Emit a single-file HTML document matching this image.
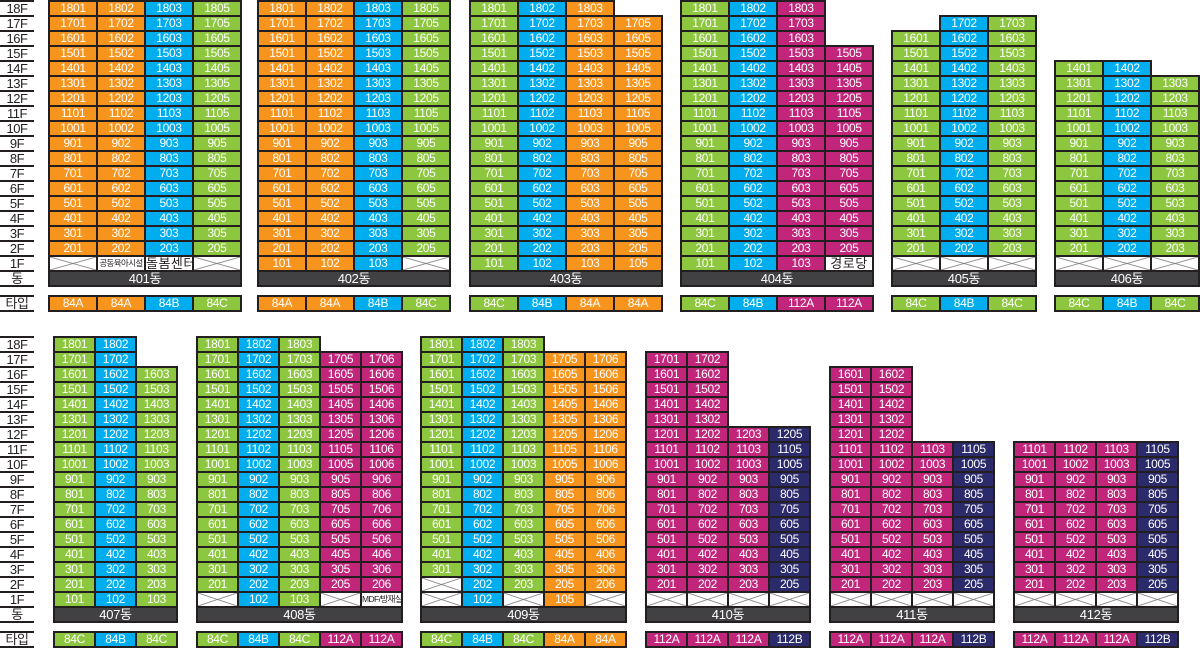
<!DOCTYPE html>
<html><head><meta charset="utf-8"><style>
body{margin:0;width:1200px;height:662px;background:#fff;position:relative;overflow:hidden;font-family:"Liberation Sans","Noto Sans CJK KR",sans-serif}
.B{position:absolute;display:grid;background:#231f20;padding:2px;gap:2px;grid-auto-rows:13px}
.c3{grid-template-columns:repeat(3,1fr)}.c4{grid-template-columns:repeat(4,1fr)}.c5{grid-template-columns:repeat(5,1fr)}
p{margin:0;font-size:12px;line-height:13px;text-align:center;color:#fff;letter-spacing:-.3px;white-space:nowrap;overflow:hidden}
.o{background:#f7941d}.b{background:#00aeef}.g{background:#8dc63f}.m{background:#c1267b}.n{background:#2b2a6b}
.e{background:#fff;margin:-2px -2px 0 0}
.el{background:#fff;margin:-2px 0 0 -2px}
.x{background:linear-gradient(to top right,transparent calc(50% - .8px),#7a7a7a 50%,transparent calc(50% + .8px)),linear-gradient(to bottom right,transparent calc(50% - .8px),#7a7a7a 50%,transparent calc(50% + .8px)),#fff}
.d{grid-column:1/-1;background:#414042;font-size:13px}
.w{background:#fff;color:#231f20}
.s{font-size:8.5px;letter-spacing:-.6px}
.t{font-size:13px;letter-spacing:.5px}
.LC{position:absolute;left:0;width:34px;border-top:2px solid #231f20}
.LC div{height:13px;border-bottom:2px solid #231f20;font-size:13px;line-height:14px;text-align:center;color:#231f20;letter-spacing:-.5px}
</style></head><body>

<div class="LC" style="top:0"><div>18F</div><div>17F</div><div>16F</div><div>15F</div><div>14F</div><div>13F</div><div>12F</div><div>11F</div><div>10F</div><div>9F</div><div>8F</div><div>7F</div><div>6F</div><div>5F</div><div>4F</div><div>3F</div><div>2F</div><div>1F</div><div>동</div></div>
<div class="LC" style="top:295px"><div>타입</div></div>
<div class="LC" style="top:336px"><div>18F</div><div>17F</div><div>16F</div><div>15F</div><div>14F</div><div>13F</div><div>12F</div><div>11F</div><div>10F</div><div>9F</div><div>8F</div><div>7F</div><div>6F</div><div>5F</div><div>4F</div><div>3F</div><div>2F</div><div>1F</div><div>동</div></div>
<div class="LC" style="top:631px"><div>타입</div></div>

<!-- 401 -->
<div class="B c4" style="left:48px;top:0;width:194px;box-sizing:border-box">
<p class=o>1801<p class=o>1802<p class=b>1803<p class=g>1805
<p class=o>1701<p class=o>1702<p class=b>1703<p class=g>1705
<p class=o>1601<p class=o>1602<p class=b>1603<p class=g>1605
<p class=o>1501<p class=o>1502<p class=b>1503<p class=g>1505
<p class=o>1401<p class=o>1402<p class=b>1403<p class=g>1405
<p class=o>1301<p class=o>1302<p class=b>1303<p class=g>1305
<p class=o>1201<p class=o>1202<p class=b>1203<p class=g>1205
<p class=o>1101<p class=o>1102<p class=b>1103<p class=g>1105
<p class=o>1001<p class=o>1002<p class=b>1003<p class=g>1005
<p class=o>901<p class=o>902<p class=b>903<p class=g>905
<p class=o>801<p class=o>802<p class=b>803<p class=g>805
<p class=o>701<p class=o>702<p class=b>703<p class=g>705
<p class=o>601<p class=o>602<p class=b>603<p class=g>605
<p class=o>501<p class=o>502<p class=b>503<p class=g>505
<p class=o>401<p class=o>402<p class=b>403<p class=g>405
<p class=o>301<p class=o>302<p class=b>303<p class=g>305
<p class=o>201<p class=o>202<p class=b>203<p class=g>205
<p class=x><p class="w s">공동육아시설<p class="w t">돌봄센터<p class=x>
<p class=d>401동
</div>

<!-- 402 -->
<div class="B c4" style="left:257px;top:0;width:194px;box-sizing:border-box">
<p class=o>1801<p class=o>1802<p class=b>1803<p class=g>1805
<p class=o>1701<p class=o>1702<p class=b>1703<p class=g>1705
<p class=o>1601<p class=o>1602<p class=b>1603<p class=g>1605
<p class=o>1501<p class=o>1502<p class=b>1503<p class=g>1505
<p class=o>1401<p class=o>1402<p class=b>1403<p class=g>1405
<p class=o>1301<p class=o>1302<p class=b>1303<p class=g>1305
<p class=o>1201<p class=o>1202<p class=b>1203<p class=g>1205
<p class=o>1101<p class=o>1102<p class=b>1103<p class=g>1105
<p class=o>1001<p class=o>1002<p class=b>1003<p class=g>1005
<p class=o>901<p class=o>902<p class=b>903<p class=g>905
<p class=o>801<p class=o>802<p class=b>803<p class=g>805
<p class=o>701<p class=o>702<p class=b>703<p class=g>705
<p class=o>601<p class=o>602<p class=b>603<p class=g>605
<p class=o>501<p class=o>502<p class=b>503<p class=g>505
<p class=o>401<p class=o>402<p class=b>403<p class=g>405
<p class=o>301<p class=o>302<p class=b>303<p class=g>305
<p class=o>201<p class=o>202<p class=b>203<p class=g>205
<p class=o>101<p class=o>102<p class=b>103<p class=x>
<p class=d>402동
</div>

<!-- 403 -->
<div class="B c4" style="left:469px;top:0;width:194px;box-sizing:border-box">
<p class=g>1801<p class=b>1802<p class=o>1803<p class=e>
<p class=g>1701<p class=b>1702<p class=o>1703<p class=o>1705
<p class=g>1601<p class=b>1602<p class=o>1603<p class=o>1605
<p class=g>1501<p class=b>1502<p class=o>1503<p class=o>1505
<p class=g>1401<p class=b>1402<p class=o>1403<p class=o>1405
<p class=g>1301<p class=b>1302<p class=o>1303<p class=o>1305
<p class=g>1201<p class=b>1202<p class=o>1203<p class=o>1205
<p class=g>1101<p class=b>1102<p class=o>1103<p class=o>1105
<p class=g>1001<p class=b>1002<p class=o>1003<p class=o>1005
<p class=g>901<p class=b>902<p class=o>903<p class=o>905
<p class=g>801<p class=b>802<p class=o>803<p class=o>805
<p class=g>701<p class=b>702<p class=o>703<p class=o>705
<p class=g>601<p class=b>602<p class=o>603<p class=o>605
<p class=g>501<p class=b>502<p class=o>503<p class=o>505
<p class=g>401<p class=b>402<p class=o>403<p class=o>405
<p class=g>301<p class=b>302<p class=o>303<p class=o>305
<p class=g>201<p class=b>202<p class=o>203<p class=o>205
<p class=g>101<p class=b>102<p class=o>103<p class=o>105
<p class=d>403동
</div>

<!-- 404 -->
<div class="B c4" style="left:680px;top:0;width:194px;box-sizing:border-box">
<p class=g>1801<p class=b>1802<p class=m>1803<p class=e>
<p class=g>1701<p class=b>1702<p class=m>1703<p class=e>
<p class=g>1601<p class=b>1602<p class=m>1603<p class=e>
<p class=g>1501<p class=b>1502<p class=m>1503<p class=m>1505
<p class=g>1401<p class=b>1402<p class=m>1403<p class=m>1405
<p class=g>1301<p class=b>1302<p class=m>1303<p class=m>1305
<p class=g>1201<p class=b>1202<p class=m>1203<p class=m>1205
<p class=g>1101<p class=b>1102<p class=m>1103<p class=m>1105
<p class=g>1001<p class=b>1002<p class=m>1003<p class=m>1005
<p class=g>901<p class=b>902<p class=m>903<p class=m>905
<p class=g>801<p class=b>802<p class=m>803<p class=m>805
<p class=g>701<p class=b>702<p class=m>703<p class=m>705
<p class=g>601<p class=b>602<p class=m>603<p class=m>605
<p class=g>501<p class=b>502<p class=m>503<p class=m>505
<p class=g>401<p class=b>402<p class=m>403<p class=m>405
<p class=g>301<p class=b>302<p class=m>303<p class=m>305
<p class=g>201<p class=b>202<p class=m>203<p class=m>205
<p class=g>101<p class=b>102<p class=m>103<p class="w t">경로당
<p class=d>404동
</div>

<!-- 405 -->
<div class="B c3" style="left:891px;top:15px;width:146px;box-sizing:border-box">
<p class=el><p class=b>1702<p class=g>1703
<p class=g>1601<p class=b>1602<p class=g>1603
<p class=g>1501<p class=b>1502<p class=g>1503
<p class=g>1401<p class=b>1402<p class=g>1403
<p class=g>1301<p class=b>1302<p class=g>1303
<p class=g>1201<p class=b>1202<p class=g>1203
<p class=g>1101<p class=b>1102<p class=g>1103
<p class=g>1001<p class=b>1002<p class=g>1003
<p class=g>901<p class=b>902<p class=g>903
<p class=g>801<p class=b>802<p class=g>803
<p class=g>701<p class=b>702<p class=g>703
<p class=g>601<p class=b>602<p class=g>603
<p class=g>501<p class=b>502<p class=g>503
<p class=g>401<p class=b>402<p class=g>403
<p class=g>301<p class=b>302<p class=g>303
<p class=g>201<p class=b>202<p class=g>203
<p class=x><p class=x><p class=x>
<p class=d>405동
</div>

<!-- 406 -->
<div class="B c3" style="left:1054px;top:60px;width:146px;box-sizing:border-box">
<p class=g>1401<p class=b>1402<p class=e>
<p class=g>1301<p class=b>1302<p class=g>1303
<p class=g>1201<p class=b>1202<p class=g>1203
<p class=g>1101<p class=b>1102<p class=g>1103
<p class=g>1001<p class=b>1002<p class=g>1003
<p class=g>901<p class=b>902<p class=g>903
<p class=g>801<p class=b>802<p class=g>803
<p class=g>701<p class=b>702<p class=g>703
<p class=g>601<p class=b>602<p class=g>603
<p class=g>501<p class=b>502<p class=g>503
<p class=g>401<p class=b>402<p class=g>403
<p class=g>301<p class=b>302<p class=g>303
<p class=g>201<p class=b>202<p class=g>203
<p class=x><p class=x><p class=x>
<p class=d>406동
</div>

<!-- top type rows -->
<div class="B c4" style="left:48px;top:295px;width:194px;box-sizing:border-box"><p class=o>84A<p class=o>84A<p class=b>84B<p class=g>84C</div>
<div class="B c4" style="left:257px;top:295px;width:194px;box-sizing:border-box"><p class=o>84A<p class=o>84A<p class=b>84B<p class=g>84C</div>
<div class="B c4" style="left:469px;top:295px;width:194px;box-sizing:border-box"><p class=g>84C<p class=b>84B<p class=o>84A<p class=o>84A</div>
<div class="B c4" style="left:680px;top:295px;width:194px;box-sizing:border-box"><p class=g>84C<p class=b>84B<p class=m>112A<p class=m>112A</div>
<div class="B c3" style="left:891px;top:295px;width:146px;box-sizing:border-box"><p class=g>84C<p class=b>84B<p class=g>84C</div>
<div class="B c3" style="left:1054px;top:295px;width:146px;box-sizing:border-box"><p class=g>84C<p class=b>84B<p class=g>84C</div>

<!-- 407 -->
<div class="B c3" style="left:53px;top:336px;width:125px;box-sizing:border-box">
<p class=g>1801<p class=b>1802<p class=e>
<p class=g>1701<p class=b>1702<p class=e>
<p class=g>1601<p class=b>1602<p class=g>1603
<p class=g>1501<p class=b>1502<p class=g>1503
<p class=g>1401<p class=b>1402<p class=g>1403
<p class=g>1301<p class=b>1302<p class=g>1303
<p class=g>1201<p class=b>1202<p class=g>1203
<p class=g>1101<p class=b>1102<p class=g>1103
<p class=g>1001<p class=b>1002<p class=g>1003
<p class=g>901<p class=b>902<p class=g>903
<p class=g>801<p class=b>802<p class=g>803
<p class=g>701<p class=b>702<p class=g>703
<p class=g>601<p class=b>602<p class=g>603
<p class=g>501<p class=b>502<p class=g>503
<p class=g>401<p class=b>402<p class=g>403
<p class=g>301<p class=b>302<p class=g>303
<p class=g>201<p class=b>202<p class=g>203
<p class=g>101<p class=b>102<p class=g>103
<p class=d>407동
</div>

<!-- 408 -->
<div class="B c5" style="left:196px;top:336px;width:207px;box-sizing:border-box">
<p class=g>1801<p class=b>1802<p class=g>1803<p class=e><p class=e>
<p class=g>1701<p class=b>1702<p class=g>1703<p class=m>1705<p class=m>1706
<p class=g>1601<p class=b>1602<p class=g>1603<p class=m>1605<p class=m>1606
<p class=g>1501<p class=b>1502<p class=g>1503<p class=m>1505<p class=m>1506
<p class=g>1401<p class=b>1402<p class=g>1403<p class=m>1405<p class=m>1406
<p class=g>1301<p class=b>1302<p class=g>1303<p class=m>1305<p class=m>1306
<p class=g>1201<p class=b>1202<p class=g>1203<p class=m>1205<p class=m>1206
<p class=g>1101<p class=b>1102<p class=g>1103<p class=m>1105<p class=m>1106
<p class=g>1001<p class=b>1002<p class=g>1003<p class=m>1005<p class=m>1006
<p class=g>901<p class=b>902<p class=g>903<p class=m>905<p class=m>906
<p class=g>801<p class=b>802<p class=g>803<p class=m>805<p class=m>806
<p class=g>701<p class=b>702<p class=g>703<p class=m>705<p class=m>706
<p class=g>601<p class=b>602<p class=g>603<p class=m>605<p class=m>606
<p class=g>501<p class=b>502<p class=g>503<p class=m>505<p class=m>506
<p class=g>401<p class=b>402<p class=g>403<p class=m>405<p class=m>406
<p class=g>301<p class=b>302<p class=g>303<p class=m>305<p class=m>306
<p class=g>201<p class=b>202<p class=g>203<p class=m>205<p class=m>206
<p class=x><p class=b>102<p class=g>103<p class=x><p class="w s">MDF/방재실
<p class=d>408동
</div>

<!-- 409 -->
<div class="B c5" style="left:420px;top:336px;width:207px;box-sizing:border-box">
<p class=g>1801<p class=b>1802<p class=g>1803<p class=e><p class=e>
<p class=g>1701<p class=b>1702<p class=g>1703<p class=o>1705<p class=o>1706
<p class=g>1601<p class=b>1602<p class=g>1603<p class=o>1605<p class=o>1606
<p class=g>1501<p class=b>1502<p class=g>1503<p class=o>1505<p class=o>1506
<p class=g>1401<p class=b>1402<p class=g>1403<p class=o>1405<p class=o>1406
<p class=g>1301<p class=b>1302<p class=g>1303<p class=o>1305<p class=o>1306
<p class=g>1201<p class=b>1202<p class=g>1203<p class=o>1205<p class=o>1206
<p class=g>1101<p class=b>1102<p class=g>1103<p class=o>1105<p class=o>1106
<p class=g>1001<p class=b>1002<p class=g>1003<p class=o>1005<p class=o>1006
<p class=g>901<p class=b>902<p class=g>903<p class=o>905<p class=o>906
<p class=g>801<p class=b>802<p class=g>803<p class=o>805<p class=o>806
<p class=g>701<p class=b>702<p class=g>703<p class=o>705<p class=o>706
<p class=g>601<p class=b>602<p class=g>603<p class=o>605<p class=o>606
<p class=g>501<p class=b>502<p class=g>503<p class=o>505<p class=o>506
<p class=g>401<p class=b>402<p class=g>403<p class=o>405<p class=o>406
<p class=g>301<p class=b>302<p class=g>303<p class=o>305<p class=o>306
<p class=x><p class=b>202<p class=g>203<p class=o>205<p class=o>206
<p class=x><p class=b>102<p class=x><p class=o>105<p class=x>
<p class=d>409동
</div>

<!-- 410 -->
<div class="B c4" style="left:645px;top:351px;width:166px;box-sizing:border-box">
<p class=m>1701<p class=m>1702<p class=e><p class=e>
<p class=m>1601<p class=m>1602<p class=e><p class=e>
<p class=m>1501<p class=m>1502<p class=e><p class=e>
<p class=m>1401<p class=m>1402<p class=e><p class=e>
<p class=m>1301<p class=m>1302<p class=e><p class=e>
<p class=m>1201<p class=m>1202<p class=m>1203<p class=n>1205
<p class=m>1101<p class=m>1102<p class=m>1103<p class=n>1105
<p class=m>1001<p class=m>1002<p class=m>1003<p class=n>1005
<p class=m>901<p class=m>902<p class=m>903<p class=n>905
<p class=m>801<p class=m>802<p class=m>803<p class=n>805
<p class=m>701<p class=m>702<p class=m>703<p class=n>705
<p class=m>601<p class=m>602<p class=m>603<p class=n>605
<p class=m>501<p class=m>502<p class=m>503<p class=n>505
<p class=m>401<p class=m>402<p class=m>403<p class=n>405
<p class=m>301<p class=m>302<p class=m>303<p class=n>305
<p class=m>201<p class=m>202<p class=m>203<p class=n>205
<p class=x><p class=x><p class=x><p class=x>
<p class=d>410동
</div>

<!-- 411 -->
<div class="B c4" style="left:829px;top:366px;width:166px;box-sizing:border-box">
<p class=m>1601<p class=m>1602<p class=e><p class=e>
<p class=m>1501<p class=m>1502<p class=e><p class=e>
<p class=m>1401<p class=m>1402<p class=e><p class=e>
<p class=m>1301<p class=m>1302<p class=e><p class=e>
<p class=m>1201<p class=m>1202<p class=e><p class=e>
<p class=m>1101<p class=m>1102<p class=m>1103<p class=n>1105
<p class=m>1001<p class=m>1002<p class=m>1003<p class=n>1005
<p class=m>901<p class=m>902<p class=m>903<p class=n>905
<p class=m>801<p class=m>802<p class=m>803<p class=n>805
<p class=m>701<p class=m>702<p class=m>703<p class=n>705
<p class=m>601<p class=m>602<p class=m>603<p class=n>605
<p class=m>501<p class=m>502<p class=m>503<p class=n>505
<p class=m>401<p class=m>402<p class=m>403<p class=n>405
<p class=m>301<p class=m>302<p class=m>303<p class=n>305
<p class=m>201<p class=m>202<p class=m>203<p class=n>205
<p class=x><p class=x><p class=x><p class=x>
<p class=d>411동
</div>

<!-- 412 -->
<div class="B c4" style="left:1013px;top:441px;width:166px;box-sizing:border-box">
<p class=m>1101<p class=m>1102<p class=m>1103<p class=n>1105
<p class=m>1001<p class=m>1002<p class=m>1003<p class=n>1005
<p class=m>901<p class=m>902<p class=m>903<p class=n>905
<p class=m>801<p class=m>802<p class=m>803<p class=n>805
<p class=m>701<p class=m>702<p class=m>703<p class=n>705
<p class=m>601<p class=m>602<p class=m>603<p class=n>605
<p class=m>501<p class=m>502<p class=m>503<p class=n>505
<p class=m>401<p class=m>402<p class=m>403<p class=n>405
<p class=m>301<p class=m>302<p class=m>303<p class=n>305
<p class=m>201<p class=m>202<p class=m>203<p class=n>205
<p class=x><p class=x><p class=x><p class=x>
<p class=d>412동
</div>

<!-- bottom type rows -->
<div class="B c3" style="left:53px;top:631px;width:125px;box-sizing:border-box"><p class=g>84C<p class=b>84B<p class=g>84C</div>
<div class="B c5" style="left:196px;top:631px;width:207px;box-sizing:border-box"><p class=g>84C<p class=b>84B<p class=g>84C<p class=m>112A<p class=m>112A</div>
<div class="B c5" style="left:420px;top:631px;width:207px;box-sizing:border-box"><p class=g>84C<p class=b>84B<p class=g>84C<p class=o>84A<p class=o>84A</div>
<div class="B c4" style="left:645px;top:631px;width:166px;box-sizing:border-box"><p class=m>112A<p class=m>112A<p class=m>112A<p class=n>112B</div>
<div class="B c4" style="left:829px;top:631px;width:166px;box-sizing:border-box"><p class=m>112A<p class=m>112A<p class=m>112A<p class=n>112B</div>
<div class="B c4" style="left:1013px;top:631px;width:166px;box-sizing:border-box"><p class=m>112A<p class=m>112A<p class=m>112A<p class=n>112B</div>

</body></html>
